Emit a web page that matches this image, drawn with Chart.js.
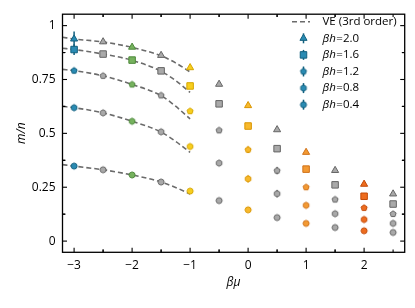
<!DOCTYPE html>
<html>
<head>
<meta charset="utf-8">
<script src="https://cdn.jsdelivr.net/npm/chart.js@4/dist/chart.umd.min.js"></script>
<style>
html,body{margin:0;padding:0;background:#fff;}
#wrap{width:415px;height:308px;position:relative;}
</style>
</head>
<body>
<div id="wrap"><canvas id="c" width="415" height="308"></canvas></div>
<script>
// ---- data ----
const betaMu = [-3, -2.5, -2, -1.5, -1, -0.5, 0, 0.5, 1, 1.5, 2, 2.5];
const seriesLabels = ['2.0', '1.6', '1.2', '0.8', '0.4'];
const mH20 = [0.938, 0.925, 0.900, 0.862, 0.805, 0.728, 0.629, 0.517, 0.412, 0.328, 0.264, 0.219];
const mH16 = [0.889, 0.868, 0.840, 0.790, 0.720, 0.637, 0.534, 0.429, 0.334, 0.261, 0.208, 0.172];
const mH12 = [0.791, 0.767, 0.727, 0.676, 0.603, 0.514, 0.424, 0.327, 0.250, 0.193, 0.154, 0.126];
const mH08 = [0.619, 0.595, 0.556, 0.507, 0.439, 0.362, 0.289, 0.220, 0.166, 0.127, 0.100, 0.082];
const mH04 = [0.348, 0.331, 0.307, 0.274, 0.232, 0.188, 0.145, 0.109, 0.082, 0.063, 0.048, 0.040];
const errH20 = [0.035, 0.010, 0, 0.008, 0, 0.006, 0, 0, 0, 0, 0, 0];
const errH16 = [0.025, 0.010, 0, 0, 0, 0, 0, 0, 0, 0, 0, 0];
const errH12 = [0.012, 0, 0, 0, 0, 0.008, 0.015, 0.017, 0, 0, 0, 0];
const errH08 = [0.008, 0, 0, 0, 0, 0, 0.016, 0.017, 0, 0, 0, 0];
const errH04 = [0.005, 0, 0, 0, 0, 0, 0, 0, 0, 0, 0, 0];
// VE (3rd order) curves
const veX = [-3.2, -3, -2.5, -2, -1.5, -1.25, -1];
const veH20 = [0.946, 0.938, 0.924, 0.899, 0.860, 0.827, 0.785];
const veH16 = [0.895, 0.889, 0.868, 0.839, 0.788, 0.745, 0.690];
const veH12 = [0.797, 0.791, 0.767, 0.727, 0.675, 0.626, 0.567];
const veH08 = [0.625, 0.619, 0.595, 0.556, 0.506, 0.463, 0.412];
const veH04 = [0.355, 0.348, 0.331, 0.307, 0.274, 0.249, 0.219];
const yTickLabels = ['0', '0.25', '0.5', '0.75', '1'];

// ---- styles ----
const fillByX = ['#2a8bb3','#a9a9a9','#76b25e','#a9a9a9','#f7ce1e','#a9a9a9','#f8b92c','#a9a9a9','#f39a33','#a9a9a9','#ee6c1e','#a9a9a9'];
const edgeByX = ['#12607f','#656565','#4e8a3c','#656565','#d6a600','#656565','#d99500','#656565','#d0721a','#656565','#c24a08','#656565'];
const FONT = "'Open Sans', 'DejaVu Sans', sans-serif";

const markerCache = {};
function polyMarker(n, r, fill, edge) {
  const key = n + '|' + r + '|' + fill;
  if (markerCache[key]) return markerCache[key];
  const s = Math.ceil(2 * r + 3);
  const cv = document.createElement('canvas');
  cv.width = s; cv.height = s;
  const g = cv.getContext('2d');
  g.beginPath();
  for (let k = 0; k < n; k++) {
    const a = -Math.PI / 2 + k * 2 * Math.PI / n;
    const px = s / 2 + r * Math.cos(a), py = s / 2 + r * Math.sin(a);
    k ? g.lineTo(px, py) : g.moveTo(px, py);
  }
  g.closePath();
  g.fillStyle = fill; g.fill();
  g.lineWidth = 1; g.strokeStyle = edge; g.stroke();
  markerCache[key] = cv;
  return cv;
}

const shapes = [
  {style: 'triangle', radius: 4.1},
  {style: 'rect', radius: 4.6},
  {poly: 5, radius: 3.2},
  {poly: 6, radius: 3.2},
  {poly: 8, radius: 3.1}
];
const seriesVals = [mH20, mH16, mH12, mH08, mH04];
const seriesErrs = [errH20, errH16, errH12, errH08, errH04];
const veVals = [veH20, veH16, veH12, veH08, veH04];

const datasets = [];
veVals.forEach((v, si) => {
  datasets.push({
    type: 'line',
    label: si === 0 ? 'VE (3rd order)' : '',
    data: veX.map((x, i) => ({x, y: v[i]})),
    borderColor: '#6b6b6b', borderWidth: 1.6, borderDash: [5, 3],
    pointRadius: 0, cubicInterpolationMode: 'monotone', fill: false, order: 2
  });
});
seriesVals.forEach((vals, si) => {
  const sh = shapes[si];
  datasets.push({
    type: 'scatter',
    label: '\u03B2h=' + seriesLabels[si],
    data: betaMu.map((x, i) => ({x, y: vals[i]})),
    pointStyle: sh.poly ? (c => polyMarker(sh.poly, sh.radius, fillByX[c.dataIndex], edgeByX[c.dataIndex])) : sh.style,
    pointRadius: sh.radius,
    pointBackgroundColor: c => fillByX[c.dataIndex],
    pointBorderColor: c => edgeByX[c.dataIndex],
    pointBorderWidth: 1,
    showLine: false, order: 1
  });
});

const decor = {
  id: 'decor',
  beforeDatasetsDraw(chart) {
    const ctx = chart.ctx, xs = chart.scales.x, ys = chart.scales.y;
    ctx.save();
    ctx.lineWidth = 1.5;
    seriesVals.forEach((vals, si) => {
      const errs = seriesErrs[si];
      betaMu.forEach((x, i) => {
        if (!errs[i]) return;
        const px = xs.getPixelForValue(x);
        ctx.strokeStyle = edgeByX[i];
        ctx.beginPath();
        ctx.moveTo(px, ys.getPixelForValue(vals[i] - errs[i]));
        ctx.lineTo(px, ys.getPixelForValue(vals[i] + errs[i]));
        ctx.stroke();
      });
    });
    ctx.restore();
  },
  afterDraw(chart) {
    const ctx = chart.ctx, a = chart.chartArea, xs = chart.scales.x, ys = chart.scales.y;
    ctx.save();
    ctx.strokeStyle = '#000';
    ctx.lineWidth = 1.3;
    ctx.strokeRect(a.left, a.top, a.right - a.left, a.bottom - a.top);
    ctx.lineWidth = 1.1;
    const tick = (x1, y1, x2, y2) => { ctx.beginPath(); ctx.moveTo(x1, y1); ctx.lineTo(x2, y2); ctx.stroke(); };
    xs.ticks.forEach(t => {
      [[t.value, 4.5], [t.value + 0.5, 2.8], [t.value - 0.5, 2.8]].forEach(([v, L]) => {
        if (v < xs.min || v > xs.max) return;
        const p = xs.getPixelForValue(v);
        tick(p, a.bottom, p, a.bottom - L);
        tick(p, a.top, p, a.top + L);
      });
    });
    ys.ticks.forEach(t => {
      [[t.value, 4.5], [t.value + 0.125, 2.8], [t.value - 0.125, 2.8]].forEach(([v, L]) => {
        if (v < ys.min || v > ys.max) return;
        const p = ys.getPixelForValue(v);
        tick(a.left, p, a.left + L, p);
        tick(a.right, p, a.right - L, p);
      });
    });
    // legend
    const lx = 303.5, tx = 322.5, y0 = 21.7, dy = 16.6;
    ctx.strokeStyle = '#6b6b6b'; ctx.lineWidth = 1.6; ctx.setLineDash([5, 3]);
    tick(292, y0, 310, y0);
    ctx.setLineDash([]);
    ctx.fillStyle = '#000'; ctx.textBaseline = 'middle'; ctx.textAlign = 'left';
    ctx.font = '11.5px ' + FONT;
    ctx.fillText('VE (3rd order)', tx, y0);
    seriesLabels.forEach((lab, si) => {
      const y = y0 + dy * (si + 1);
      const sh = shapes[si];
      ctx.strokeStyle = edgeByX[0]; ctx.lineWidth = 1.5;
      tick(lx, y - 5, lx, y + 5);
      ctx.fillStyle = fillByX[0]; ctx.strokeStyle = edgeByX[0]; ctx.lineWidth = 1;
      Chart.helpers.drawPoint(ctx, {
        pointStyle: sh.poly ? polyMarker(sh.poly, sh.radius, fillByX[0], edgeByX[0]) : sh.style,
        radius: sh.radius, borderWidth: 1, rotation: 0
      }, lx, y);
      ctx.fillStyle = '#000';
      ctx.font = 'italic 11.5px ' + FONT;
      ctx.fillText('\u03B2h', tx, y);
      const w = ctx.measureText('\u03B2h').width;
      ctx.font = '11.5px ' + FONT;
      ctx.fillText('=' + lab, tx + w + 0.5, y);
    });
    ctx.restore();
  }
};

new Chart(document.getElementById('c'), {
  data: {datasets},
  options: {
    responsive: false, animation: false, devicePixelRatio: 1,
    layout: {padding: {top: 6.5, right: 10.3, left: 0, bottom: 0}},
    plugins: {legend: {display: false}, tooltip: {enabled: false}},
    scales: {
      x: {
        type: 'linear', min: -3.2, max: 2.7,
        afterFit: s => { s.height = 55.7; },
        grid: {display: false, drawTicks: false},
        border: {display: false},
        ticks: {
          stepSize: 1, includeBounds: false, padding: 6, color: '#000',
          font: {family: FONT, size: 12},
          callback: v => (v < 0 ? '\u2212' + Math.abs(v) : String(v))
        },
        title: {display: true, text: '\u03B2\u03BC', color: '#000',
          font: {family: FONT, size: 12, style: 'italic'}, padding: {top: 18, bottom: 18}}
      },
      y: {
        type: 'linear', min: -0.052, max: 1.053,
        afterFit: s => { s.width = 62.5; },
        grid: {display: false, drawTicks: false},
        border: {display: false},
        ticks: {
          stepSize: 0.25, includeBounds: false, padding: 7, color: '#000',
          font: {family: FONT, size: 12},
          callback: v => yTickLabels[Math.round(v / 0.25)]
        },
        title: {display: true, text: 'm/n', color: '#000',
          font: {family: FONT, size: 12, style: 'italic'}, padding: {top: 14, bottom: 14}}
      }
    }
  },
  plugins: [decor]
});
</script>
</body>
</html>
